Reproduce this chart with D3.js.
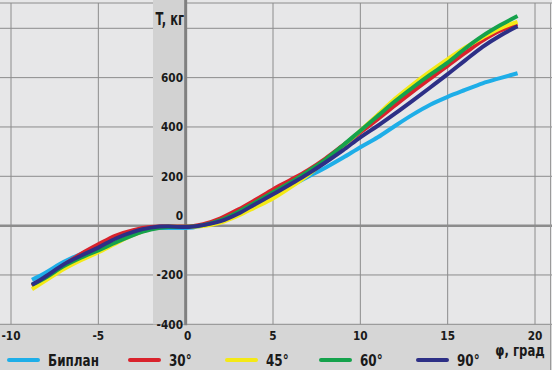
<!DOCTYPE html>
<meta charset="utf-8">

<script src="https://d3js.org/d3.v7.min.js"></script>

<style type="text/css">
body { margin: 0; }
svg { display: block; }
text {
  font-family: "DejaVu Sans", sans-serif;
  font-weight: bold;
  fill: #1a1a1a;
}
</style>

<body>
</body>

<script>

// angle of flap deflection, degrees
var phi = [-8.8, -8, -7, -6, -5, -4, -3, -2, -1, 0, 1, 2, 3, 4, 5, 6, 7, 8, 9, 10, 11, 12, 13, 14, 15, 16, 17, 18, 19];

// thrust T, kg
var biplan = [-220, -190, -148, -115, -85, -52, -25, -10, -10, -10, 0, 20, 50, 85, 122, 160, 198, 235, 275, 318, 358, 405, 450, 490, 522, 550, 577, 598, 618];
var deg30  = [-245, -210, -160, -115, -76, -40, -18, -6, -3, -4, 6, 30, 65, 105, 147, 185, 225, 272, 325, 378, 432, 488, 543, 596, 648, 700, 750, 790, 816];
var deg45  = [-258, -222, -177, -140, -108, -72, -38, -14, -4, -6, -2, 12, 40, 75, 110, 155, 205, 262, 322, 385, 450, 515, 572, 625, 675, 722, 763, 800, 826];
var deg60  = [-240, -210, -165, -130, -100, -68, -38, -16, -6, -5, 2, 22, 55, 95, 135, 175, 220, 268, 325, 385, 445, 505, 560, 612, 661, 718, 769, 812, 850];
var deg90  = [-240, -205, -158, -122, -89, -52, -25, -8, -3, -6, 2, 18, 48, 88, 127, 168, 210, 256, 305, 358, 405, 455, 507, 560, 614, 670, 725, 770, 808];

var seriesNames  = ["Биплан", "30°", "45°", "60°", "90°"];
var seriesValues = [biplan, deg30, deg45, deg60, deg90];
var seriesColors = ["#1eaee8", "#d9222c", "#f4e916", "#15a24c", "#2d2f86"];

var xTicks = [-10, -5, 0, 5, 10, 15, 20];
var yTicks = [-400, -200, 0, 200, 400, 600];
var yGrid  = [-200, 0, 200, 400, 600, 800];

var width = 552;
var height = 370;

var svg = d3.select("body").append("svg")
    .attr("width", width)
    .attr("height", height);

var x = d3.scaleLinear().domain([-10, 20]).range([11, 535]);
var y = d3.scaleLinear().domain([-400, 800]).range([324.3, 28.3]);

// the original uses a narrow bold face, so squeeze the text horizontally
function squeeze(px, py, sx) {
  return "translate(" + px + "," + py + ") scale(" + sx + ",1)";
}

// backgrounds
svg.append("rect").attr("width", width).attr("height", height).attr("fill", "#d6d6d6");
svg.append("rect").attr("x", 0).attr("y", 0).attr("width", width).attr("height", y(-400))
    .attr("fill", "#e7e7e8");

// grid
svg.selectAll(".hgrid").data(yGrid).enter().append("line")
  .attr("class", "hgrid")
  .attr("x1", 0).attr("x2", width)
  .attr("y1", function(d) { return y(d); })
  .attr("y2", function(d) { return y(d); })
  .attr("stroke", "#8c8c8c")
  .attr("stroke-width", function(d) { return d === 0 ? 2.5 : 1; });

svg.selectAll(".vgrid").data(xTicks.filter(function(d) { return d !== 0; })).enter().append("line")
  .attr("class", "vgrid")
  .attr("x1", function(d) { return x(d); })
  .attr("x2", function(d) { return x(d); })
  .attr("y1", 3).attr("y2", y(-400))
  .attr("stroke", "#8c8c8c")
  .attr("stroke-width", 1);

// frame lines
svg.append("line").attr("x1", 0).attr("x2", width).attr("y1", 3).attr("y2", 3)
  .attr("stroke", "#8c8c8c");
svg.append("line").attr("x1", 0).attr("x2", width).attr("y1", y(-400)).attr("y2", y(-400))
  .attr("stroke", "#8c8c8c");
svg.append("line").attr("x1", 550.5).attr("x2", 550.5).attr("y1", 3).attr("y2", height)
  .attr("stroke", "#9a9a9a");

// label strip beside the T axis
svg.append("rect")
  .attr("x", 153).attr("y", 0)
  .attr("width", x(0) - 153).attr("height", y(-400))
  .attr("fill", "#d2d2d2");

// T axis
svg.append("line")
  .attr("x1", x(0)).attr("x2", x(0))
  .attr("y1", 0).attr("y2", y(-400) + 1)
  .attr("stroke", "#808080")
  .attr("stroke-width", 3);

// zero line over the strip
svg.append("line")
  .attr("x1", 153).attr("x2", x(0))
  .attr("y1", y(0)).attr("y2", y(0))
  .attr("stroke", "#8c8c8c")
  .attr("stroke-width", 2.5);

// y tick labels
svg.selectAll(".ylab").data(yTicks).enter().append("text")
  .attr("class", "ylab")
  .attr("transform", function(d) { return squeeze(183, d === 0 ? y(0) - 6 : y(d) + 4.5, 0.88); })
  .attr("text-anchor", "end")
  .attr("font-size", 12)
  .text(function(d) { return d; });

svg.append("text")
  .attr("transform", squeeze(184, 25, 0.64))
  .attr("text-anchor", "end")
  .attr("font-size", 18)
  .text("T, кг");

// x tick labels
svg.selectAll(".xlab").data(xTicks).enter().append("text")
  .attr("class", "xlab")
  .attr("transform", function(d) { return squeeze(d === 0 ? x(0) + 2 : x(d), 340, 0.88); })
  .attr("text-anchor", "middle")
  .attr("font-size", 12)
  .text(function(d) { return d; });

svg.append("text")
  .attr("transform", squeeze(520, 356, 0.78))
  .attr("text-anchor", "middle")
  .attr("font-size", 15)
  .text("φ, град");

// curves
var line = d3.line()
  .x(function(d) { return x(d[0]); })
  .y(function(d) { return y(d[1]); })
  .curve(d3.curveMonotoneX);

svg.selectAll(".curve").data(seriesValues).enter().append("path")
  .attr("class", "curve")
  .attr("fill", "none")
  .attr("stroke", function(d, i) { return seriesColors[i]; })
  .attr("stroke-width", 4)
  .attr("stroke-linejoin", "round")
  .attr("d", function(vals) { return line(phi.map(function(p, j) { return [p, vals[j]]; })); });

// legend
var legendX = [9, 130, 227, 321, 418];
var legend = svg.selectAll(".legend").data(seriesNames).enter().append("g")
  .attr("class", "legend")
  .attr("transform", function(d, i) { return "translate(" + legendX[i] + ",360)"; });

legend.append("line")
  .attr("x1", 0).attr("x2", 29)
  .attr("stroke", function(d, i) { return seriesColors[i]; })
  .attr("stroke-width", 4)
  .attr("stroke-linecap", "round");

legend.append("text")
  .attr("transform", squeeze(39, 5.5, 0.8))
  .attr("font-size", 15)
  .text(function(d) { return d; });

</script>
